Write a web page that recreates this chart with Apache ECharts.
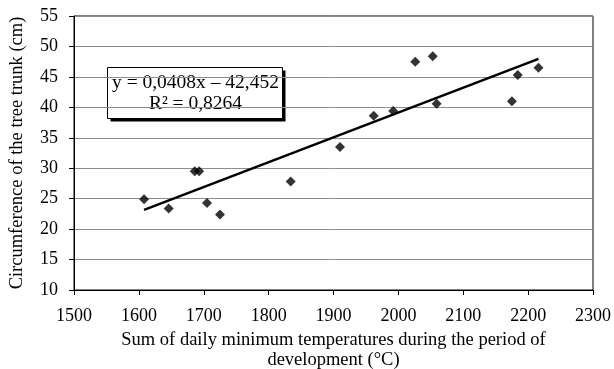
<!DOCTYPE html>
<html>
<head>
<meta charset="utf-8">
<script src="https://cdn.jsdelivr.net/npm/echarts@6/dist/echarts.min.js"></script>
<style>
html,body{margin:0;padding:0;background:#fff;}
#c{width:614px;height:369px;}
</style>
</head>
<body>
<div id="c"></div>
<script>
const tempSum = [1608, 1646, 1686, 1693, 1705, 1725, 1834, 1910, 1962, 1992, 2026, 2053, 2059, 2175, 2184, 2216];
const circumference = [24.9, 23.4, 29.5, 29.5, 24.3, 22.4, 27.8, 33.5, 38.6, 39.4, 47.5, 48.4, 40.6, 41.0, 45.3, 46.5];
const slope = 0.0408;
const intercept = -42.452;
const rSquared = '0,8264';
const xTicks = [1500, 1600, 1700, 1800, 1900, 2000, 2100, 2200, 2300];
const yTicks = [10, 15, 20, 25, 30, 35, 40, 45, 50, 55];

const points = tempSum.map((x, i) => [x, circumference[i]]);
const xMinData = Math.min(...tempSum), xMaxData = Math.max(...tempSum);
const trend = [[xMinData, slope * xMinData + intercept], [xMaxData, slope * xMaxData + intercept]];

const FONT = '"Liberation Serif", "DejaVu Serif", serif';
const chart = echarts.init(document.getElementById('c'));
chart.setOption({
  animation: false,
  backgroundColor: '#fff',
  textStyle: {fontFamily: FONT, color: '#000'},
  grid: {left: 74, right: 21, top: 16, bottom: 79, containLabel: false, outerBoundsMode: 'none', show: true, borderColor: '#000', borderWidth: 1},
  xAxis: {
    type: 'value', min: xTicks[0], max: xTicks[xTicks.length - 1], interval: 100,
    axisLine: {show: true, lineStyle: {color: '#000', width: 1}},
    axisTick: {show: true, length: 5, lineStyle: {color: '#000'}},
    axisLabel: {fontFamily: FONT, fontSize: 18, color: '#000', margin: 17, formatter: v => String(v)},
    splitLine: {show: false},
    name: 'Sum of daily minimum temperatures during the period of\ndevelopment (°C)',
    nameLocation: 'middle', nameGap: 40,
    nameTextStyle: {fontFamily: FONT, fontSize: 18.5, color: '#000', lineHeight: 20}
  },
  yAxis: {
    type: 'value', min: yTicks[0], max: yTicks[yTicks.length - 1], interval: 5,
    axisLine: {show: true, lineStyle: {color: '#000', width: 1}},
    axisTick: {show: true, length: 5, lineStyle: {color: '#000'}},
    axisLabel: {fontFamily: FONT, fontSize: 18, color: '#000', margin: 16, formatter: v => String(v)},
    splitLine: {show: true, lineStyle: {color: '#8c8c8c', width: 1}},
    name: 'Circumference of the tree trunk (cm)',
    nameLocation: 'middle', nameGap: 47, nameRotate: 90,
    nameTextStyle: {fontFamily: FONT, fontSize: 18.5, color: '#000'}
  },
  series: [
    {
      type: 'line', data: trend, symbol: 'none', z: 2,
      lineStyle: {color: '#000', width: 2.5}
    },
    {
      type: 'scatter', data: points, symbol: 'diamond', symbolSize: [10, 10], z: 3,
      itemStyle: {color: '#000'}
    }
  ],
  graphic: [{
    type: 'group', left: 107, top: 67, z: 10,
    children: [
      {type: 'rect', shape: {x: 3, y: 3, width: 175, height: 51}, style: {fill: '#000'}},
      {type: 'rect', shape: {x: 0, y: 0, width: 175, height: 51}, style: {fill: '#fff', stroke: '#000', lineWidth: 1}},
      {type: 'text', x: 88, y: 5, style: {text: 'y = ' + String(slope).replace('.', ',') + 'x – ' + String(-intercept).replace('.', ','), font: '19.5px ' + FONT, fill: '#000', align: 'center', verticalAlign: 'top'}},
      {type: 'text', x: 88, y: 26, style: {text: 'R² = ' + rSquared, font: '19.5px ' + FONT, fill: '#000', align: 'center', verticalAlign: 'top'}}
    ]
  }]
});
</script>
</body>
</html>
